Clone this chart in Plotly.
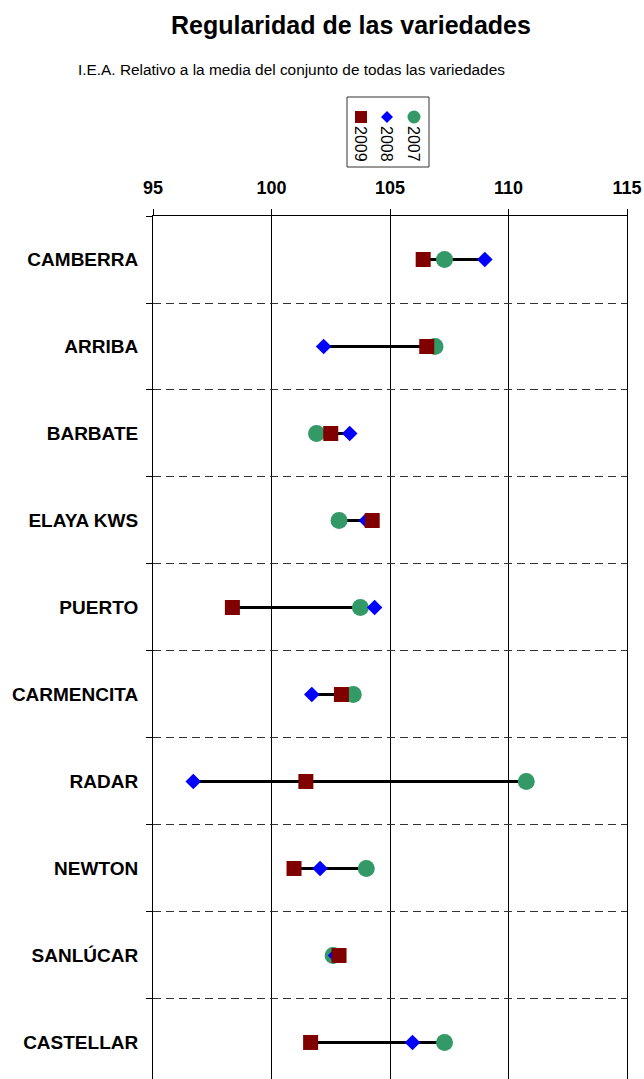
import plotly.graph_objects as go

categories = ["CAMBERRA", "ARRIBA", "BARBATE", "ELAYA KWS", "PUERTO",
              "CARMENCITA", "RADAR", "NEWTON", "SANLÚCAR", "CASTELLAR"]
v2009 = [106.4, 106.55, 102.5, 104.25, 98.35, 102.95, 101.45, 100.95, 102.85, 101.65]
v2008 = [109.0, 102.2, 103.3, 104.0, 104.35, 101.7, 96.7, 102.05, 102.7, 105.95]
v2007 = [107.3, 106.9, 101.9, 102.85, 103.75, 103.45, 110.75, 104.0, 102.6, 107.3]
x_ticks = [95, 100, 105, 110, 115]
series_names = ["2009", "2008", "2007"]

FONT = "Liberation Sans, Arial, sans-serif"
W, H = 644, 1079
ML, MR, MT, MB = 153, 17, 216, 0
PW, PH = W - ML - MR, H - MT - MB


def px(x):
    return (x - ML) / PW


def py(y):
    return (H - MB - y) / PH


# hi-lo lines
lx, ly = [], []
for c, a, b, d in zip(categories, v2009, v2008, v2007):
    vals = [a, b, d]
    lx += [min(vals), max(vals), None]
    ly += [c, c, None]

fig = go.Figure()
fig.add_trace(go.Scatter(x=lx, y=ly, mode="lines", line=dict(color="black", width=3),
                         showlegend=False, hoverinfo="skip"))
fig.add_trace(go.Scatter(x=v2007, y=categories, mode="markers", name="2007",
                         marker=dict(symbol="circle", size=17, color="#339966"),
                         showlegend=False))
fig.add_trace(go.Scatter(x=v2008, y=categories, mode="markers", name="2008",
                         marker=dict(symbol="diamond", size=12, color="#0000FF"),
                         showlegend=False))
fig.add_trace(go.Scatter(x=v2009, y=categories, mode="markers", name="2009",
                         marker=dict(symbol="square", size=15, color="#800000"),
                         showlegend=False))

shapes = []
annotations = []
# legend box
shapes.append(dict(type="rect", xref="paper", yref="paper",
                   x0=px(347), x1=px(429), y0=py(97), y1=py(167),
                   line=dict(color="#333333", width=1), fillcolor="white", layer="above"))
# legend markers
lg_x = [361, 387, 414]
lg_my = 117
shapes.append(dict(type="rect", xref="paper", yref="paper", xsizemode="pixel", ysizemode="pixel",
                   xanchor=px(lg_x[0]), yanchor=py(lg_my), x0=-6, x1=6, y0=-6, y1=6,
                   line=dict(width=0), fillcolor="#800000"))
shapes.append(dict(type="path", xref="paper", yref="paper", xsizemode="pixel", ysizemode="pixel",
                   xanchor=px(lg_x[1]), yanchor=py(lg_my),
                   path="M -6 0 L 0 6 L 6 0 L 0 -6 Z",
                   line=dict(width=0), fillcolor="#0000FF"))
shapes.append(dict(type="circle", xref="paper", yref="paper", xsizemode="pixel", ysizemode="pixel",
                   xanchor=px(lg_x[2]), yanchor=py(lg_my), x0=-6.5, x1=6.5, y0=-6.5, y1=6.5,
                   line=dict(width=0), fillcolor="#339966"))
for xx, name in zip(lg_x, series_names):
    annotations.append(dict(text=name, xref="paper", yref="paper", x=px(xx), y=py(144),
                            showarrow=False, textangle=90, xanchor="center", yanchor="middle",
                            font=dict(family=FONT, size=16, color="black")))

annotations.append(dict(text="<b>Regularidad de las variedades</b>", xref="paper", yref="paper",
                        x=px(351), y=py(25), showarrow=False, xanchor="center", yanchor="middle",
                        font=dict(family=FONT, size=25, color="black")))
annotations.append(dict(text="I.E.A. Relativo a la media del conjunto de todas las variedades",
                        xref="paper", yref="paper", x=px(76), y=py(69), showarrow=False,
                        xanchor="left", yanchor="middle",
                        font=dict(family=FONT, size=15.4, color="black")))

fig.update_layout(
    width=W, height=H,
    margin=dict(l=ML, r=MR, t=MT, b=MB, pad=0),
    plot_bgcolor="white", paper_bgcolor="white",
    shapes=shapes, annotations=annotations,
    showlegend=False,
    xaxis=dict(side="top", range=[95, 115], tickvals=x_ticks, ticktext=[str(t) for t in x_ticks],
               showgrid=True, gridcolor="black", gridwidth=1, zeroline=False,
               showline=True, linecolor="black", linewidth=1,
               ticks="outside", ticklen=6, tickcolor="black", ticklabelstandoff=8,
               tickfont=dict(family=FONT, size=18, color="black", weight="bold")),
    yaxis=dict(type="category", categoryorder="array", categoryarray=categories,
               range=[9.42, -0.5], tickson="boundaries",
               showgrid=True, gridcolor="#333333", gridwidth=1, griddash="8px,5px",
               showline=True, mirror=True, linecolor="black", linewidth=1,
               ticks="outside", ticklen=6, tickcolor="black", ticklabelstandoff=10,
               tickfont=dict(family=FONT, size=19, color="black", weight="bold")),
)

fig.write_html("out.html", config={"displayModeBar": False},
               post_script="document.body.style.margin='0px';")
